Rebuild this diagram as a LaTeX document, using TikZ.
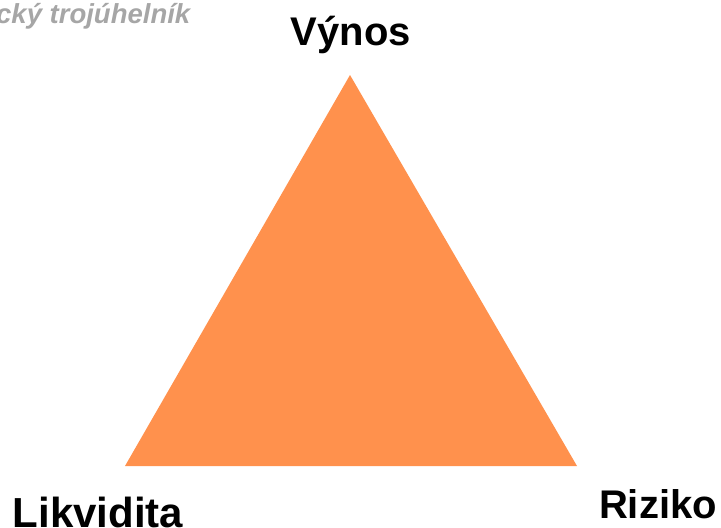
\documentclass[tikz,border=0pt]{standalone}
\usepackage{fontspec}
\setmainfont{Liberation Sans}
\definecolor{trifill}{HTML}{FF914D}
\definecolor{titlegray}{HTML}{A6A6A6}
\tikzset{
  corner/.style={font=\fontsize{40}{40}\selectfont\bfseries, inner sep=0pt, anchor=base},
}
\begin{document}
\begin{tikzpicture}[x=1pt, y=-1pt]
\useasboundingbox (0, 0) rectangle (721, 528);
\node[anchor=base west, inner sep=0pt, text=titlegray, font=\fontsize{27.5}{27.5}\selectfont\bfseries\itshape] (title) at(-4, 23) {cký trojúhelník};
\coordinate (top) at(350, 75);
\coordinate (left) at(125, 466);
\coordinate (right) at(577, 466);
\fill[trifill] (top) -- (left) -- (right) -- cycle;
\node[corner] (vynos) at(351, 45) {Výnos};
\node[corner, font=\fontsize{42}{42}\selectfont\bfseries] (likvidita) at(98, 527) {Likvidita};
\node[corner] (riziko) at(658, 518) {Riziko};
\end{tikzpicture}
\end{document}
